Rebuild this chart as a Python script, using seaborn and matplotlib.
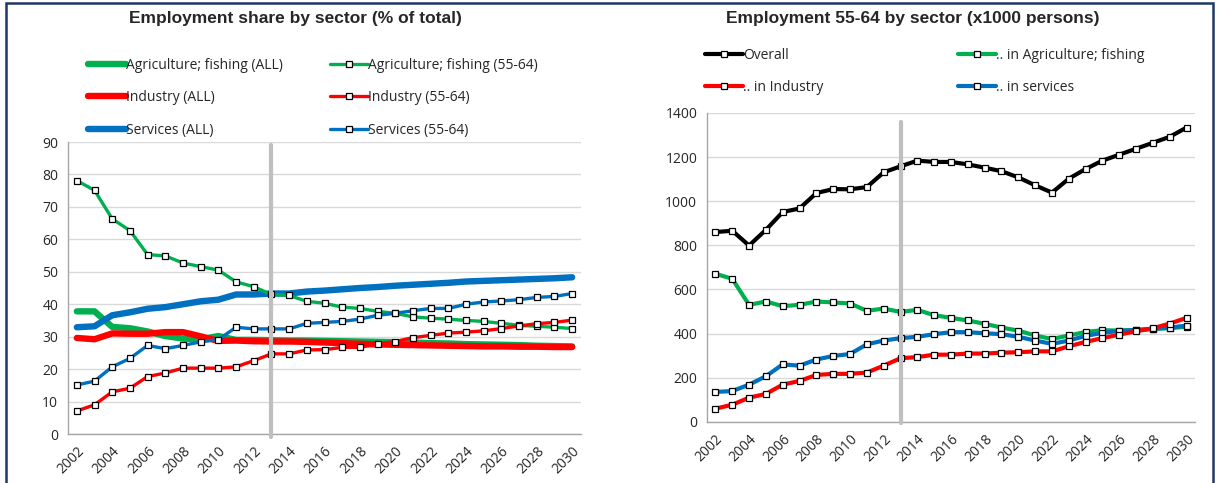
import numpy as np
import pandas as pd
import seaborn as sns
import matplotlib
matplotlib.use("Agg")
import matplotlib.pyplot as plt
from matplotlib.lines import Line2D
from matplotlib.patches import Rectangle
from matplotlib.ticker import FixedLocator

years = list(range(2002, 2031))

# Left chart: employment share by sector (% of total)
agri_all = [37.8, 37.8, 33.0, 32.6, 31.6, 30.2, 29.4, 29.2, 30.2, 29.0, 29.0, 28.9, 28.8, 28.8, 28.7,
            28.6, 28.5, 28.4, 28.3, 28.2, 28.0, 27.9, 27.7, 27.6, 27.5, 27.4, 27.2, 27.1, 27.0]
ind_all = [29.6, 29.2, 31.0, 30.9, 30.9, 31.4, 31.4, 30.1, 28.7, 28.8, 28.6, 28.5, 28.5, 28.4, 28.2,
           28.0, 27.8, 27.6, 27.5, 27.4, 27.3, 27.2, 27.1, 27.0, 27.0, 26.9, 26.9, 26.8, 26.8]
serv_all = [32.9, 33.2, 36.6, 37.5, 38.6, 39.1, 40.0, 40.9, 41.4, 43.0, 43.0, 43.3, 43.3, 43.9, 44.2,
            44.6, 45.0, 45.3, 45.7, 46.0, 46.3, 46.6, 47.0, 47.2, 47.4, 47.6, 47.8, 48.0, 48.3]
agri_55 = [78.1, 75.1, 66.3, 62.7, 55.3, 54.9, 52.7, 51.6, 50.5, 46.9, 45.4, 43.0, 42.7, 40.9, 40.3,
           39.1, 38.7, 37.8, 37.2, 36.1, 35.7, 35.4, 35.0, 34.7, 34.1, 33.5, 33.2, 32.9, 32.5]
ind_55 = [7.1, 9.0, 13.0, 14.1, 17.7, 18.8, 20.3, 20.3, 20.3, 20.7, 22.6, 24.7, 24.7, 25.9, 26.0,
          26.7, 26.7, 27.8, 28.5, 29.7, 30.4, 31.1, 31.4, 31.8, 32.5, 33.3, 34.0, 34.4, 35.1]
serv_55 = [15.1, 16.3, 20.7, 23.3, 27.3, 26.3, 27.3, 28.4, 29.1, 32.9, 32.4, 32.4, 32.4, 34.1, 34.4,
           34.7, 35.4, 36.6, 37.2, 38.0, 38.7, 38.7, 40.0, 40.7, 41.0, 41.4, 42.1, 42.4, 43.3]

# Right chart: employment 55-64 by sector (x1000 persons)
overall_n = [860, 866, 799, 870, 951, 967, 1037, 1055, 1054, 1064, 1131, 1158, 1184, 1178, 1178,
             1167, 1152, 1136, 1108, 1072, 1039, 1102, 1146, 1184, 1211, 1238, 1265, 1292, 1334]
agri_n = [671, 648, 530, 545, 524, 530, 545, 541, 536, 503, 513, 498, 507, 483, 471,
          459, 444, 427, 413, 391, 375, 391, 407, 415, 413, 416, 421, 424, 431]
ind_n = [59, 77, 109, 126, 168, 185, 212, 217, 217, 223, 254, 288, 293, 304, 304,
         309, 309, 313, 315, 319, 319, 342, 362, 379, 395, 410, 424, 445, 471]
serv_n = [135, 139, 168, 206, 260, 254, 282, 298, 307, 351, 368, 379, 385, 397, 406,
          406, 401, 397, 385, 368, 353, 368, 389, 403, 412, 416, 421, 427, 436]

left_title = "Employment share by sector (% of total)"
right_title = "Employment 55-64 by sector (x1000 persons)"
left_labels_all = ["Agriculture; fishing (ALL)", "Industry (ALL)", "Services (ALL)"]
left_labels_55 = ["Agriculture; fishing (55-64)", "Industry (55-64)", "Services (55-64)"]
right_labels = ["Overall", ".. in Industry", ".. in Agriculture; fishing", ".. in services"]
left_yticks = list(range(0, 91, 10))
right_yticks = list(range(0, 1401, 200))
xtick_years = list(range(2002, 2031, 2))
split_year = 2013

GREEN = "#00B050"
RED = "#FF0000"
BLUE = "#0070C0"
BLACK = "#000000"
GRID = "#D9D9D9"
AXIS = "#A6A6A6"

sns.set_theme(style="white")
plt.rcParams['font.family'] = ['Open Sans', 'DejaVu Sans']

W, H = 1217, 483
fig = plt.figure(figsize=(W / 100, H / 100), dpi=100)
fig.patch.set_facecolor("white")


def fx(px):
    return px / W


def fy(py):
    return 1 - py / H


axL = fig.add_axes([fx(68), fy(434), fx(581 - 68), fy(142) - fy(434)])
axR = fig.add_axes([fx(707), fy(421.7), fx(1195 - 707), fy(113) - fy(421.7)])

thick = 4.6
thin = 2.4
mk = dict(marker="s", markersize=4.2, markerfacecolor="white", markeredgecolor="black",
          markeredgewidth=0.9)


def draw(ax, vals, color, lw, markers, z):
    if markers:
        sns.lineplot(x=years, y=vals, ax=ax, color=color, lw=lw, zorder=z,
                     solid_capstyle="round", **mk)
    else:
        sns.lineplot(x=years, y=vals, ax=ax, color=color, lw=lw, zorder=z,
                     solid_capstyle="round")


draw(axL, agri_55, GREEN, thin, True, 5)
draw(axL, ind_55, RED, thin, True, 5)
draw(axL, serv_55, BLUE, thin, True, 5)
draw(axL, agri_all, GREEN, thick, False, 4)
draw(axL, ind_all, RED, thick, False, 4.2)
draw(axL, serv_all, BLUE, thick, False, 4.1)

draw(axR, overall_n, BLACK, 3.0, True, 5)
draw(axR, agri_n, GREEN, 3.0, True, 5)
draw(axR, serv_n, BLUE, 3.0, True, 5)
draw(axR, ind_n, RED, 3.0, True, 5)

TICKFS = 10
for ax, yt, top in [(axL, left_yticks, 90), (axR, right_yticks, 1400)]:
    ax.set_xlim(2001.5, 2030.5)
    ax.set_ylim(0, top)
    ax.set_yticks(yt)
    ax.set_yticklabels([str(v) for v in yt], fontsize=TICKFS, color="#262626")
    ax.set_xticks(xtick_years)
    ax.set_xticklabels([str(y) for y in xtick_years], rotation=45, ha="right",
                       rotation_mode="anchor", fontsize=TICKFS, color="#262626")
    ax.xaxis.set_minor_locator(FixedLocator(np.arange(2001.5, 2031.0, 1.0)))
    ax.tick_params(axis="x", which="major", length=0, pad=7)
    ax.tick_params(axis="x", which="minor", length=4, color=AXIS, width=1, direction="out")
    ax.tick_params(axis="y", which="major", length=4, color=AXIS, width=1, direction="out", pad=3)
    ax.grid(axis="y", color=GRID, lw=1)
    ax.set_axisbelow(True)
    for s in ["top", "right"]:
        ax.spines[s].set_visible(False)
    for s in ["left", "bottom"]:
        ax.spines[s].set_color(AXIS)
        ax.spines[s].set_linewidth(1)
    ax.set_xlabel("")
    ax.set_ylabel("")

axL.axvline(split_year, ymin=-0.01, ymax=0.99, color="#BFBFBF", lw=3, zorder=6, clip_on=False)
axR.axvline(split_year, ymin=-0.005, ymax=0.97, color="#BFBFBF", lw=3, zorder=6, clip_on=False)

fig.text(fx(295), fy(19), left_title, ha="center", va="center", fontsize=12.5,
         fontweight="bold", family=["Liberation Sans", "DejaVu Sans"])
fig.text(fx(913), fy(19), right_title, ha="center", va="center", fontsize=12.5,
         fontweight="bold", family=["Liberation Sans", "DejaVu Sans"])


def make_legend(handles, labels, x_px, y_px):
    leg = fig.legend(handles, labels, loc="upper left",
                     bbox_to_anchor=(fx(x_px), fy(y_px)), bbox_transform=fig.transFigure,
                     frameon=False, fontsize=10, handlelength=2.7, handletextpad=0.05,
                     labelspacing=1.25, borderpad=0, borderaxespad=0)
    for t in leg.get_texts():
        t.set_color("#262626")
    return leg


def h_thick(c):
    return Line2D([], [], color=c, lw=thick, solid_capstyle="round")


def h_thin(c, lw=thin):
    return Line2D([], [], color=c, lw=lw, **mk)


make_legend([h_thick(GREEN), h_thick(RED), h_thick(BLUE)], left_labels_all, 88, 58)
make_legend([h_thin(GREEN), h_thin(RED), h_thin(BLUE)], left_labels_55, 330, 58)
make_legend([h_thin(BLACK, 3.0), h_thin(RED, 3.0)], right_labels[:2], 705, 48)
make_legend([h_thin(GREEN, 3.0), h_thin(BLUE, 3.0)], right_labels[2:], 958, 48)

fig.patches.append(Rectangle((fx(6), fy(520)), fx(1213 - 6), fy(3) - fy(520),
                             transform=fig.transFigure, fill=False, edgecolor="#1F3864",
                             lw=1.8, zorder=0))

fig.savefig("out.png", dpi=100)
